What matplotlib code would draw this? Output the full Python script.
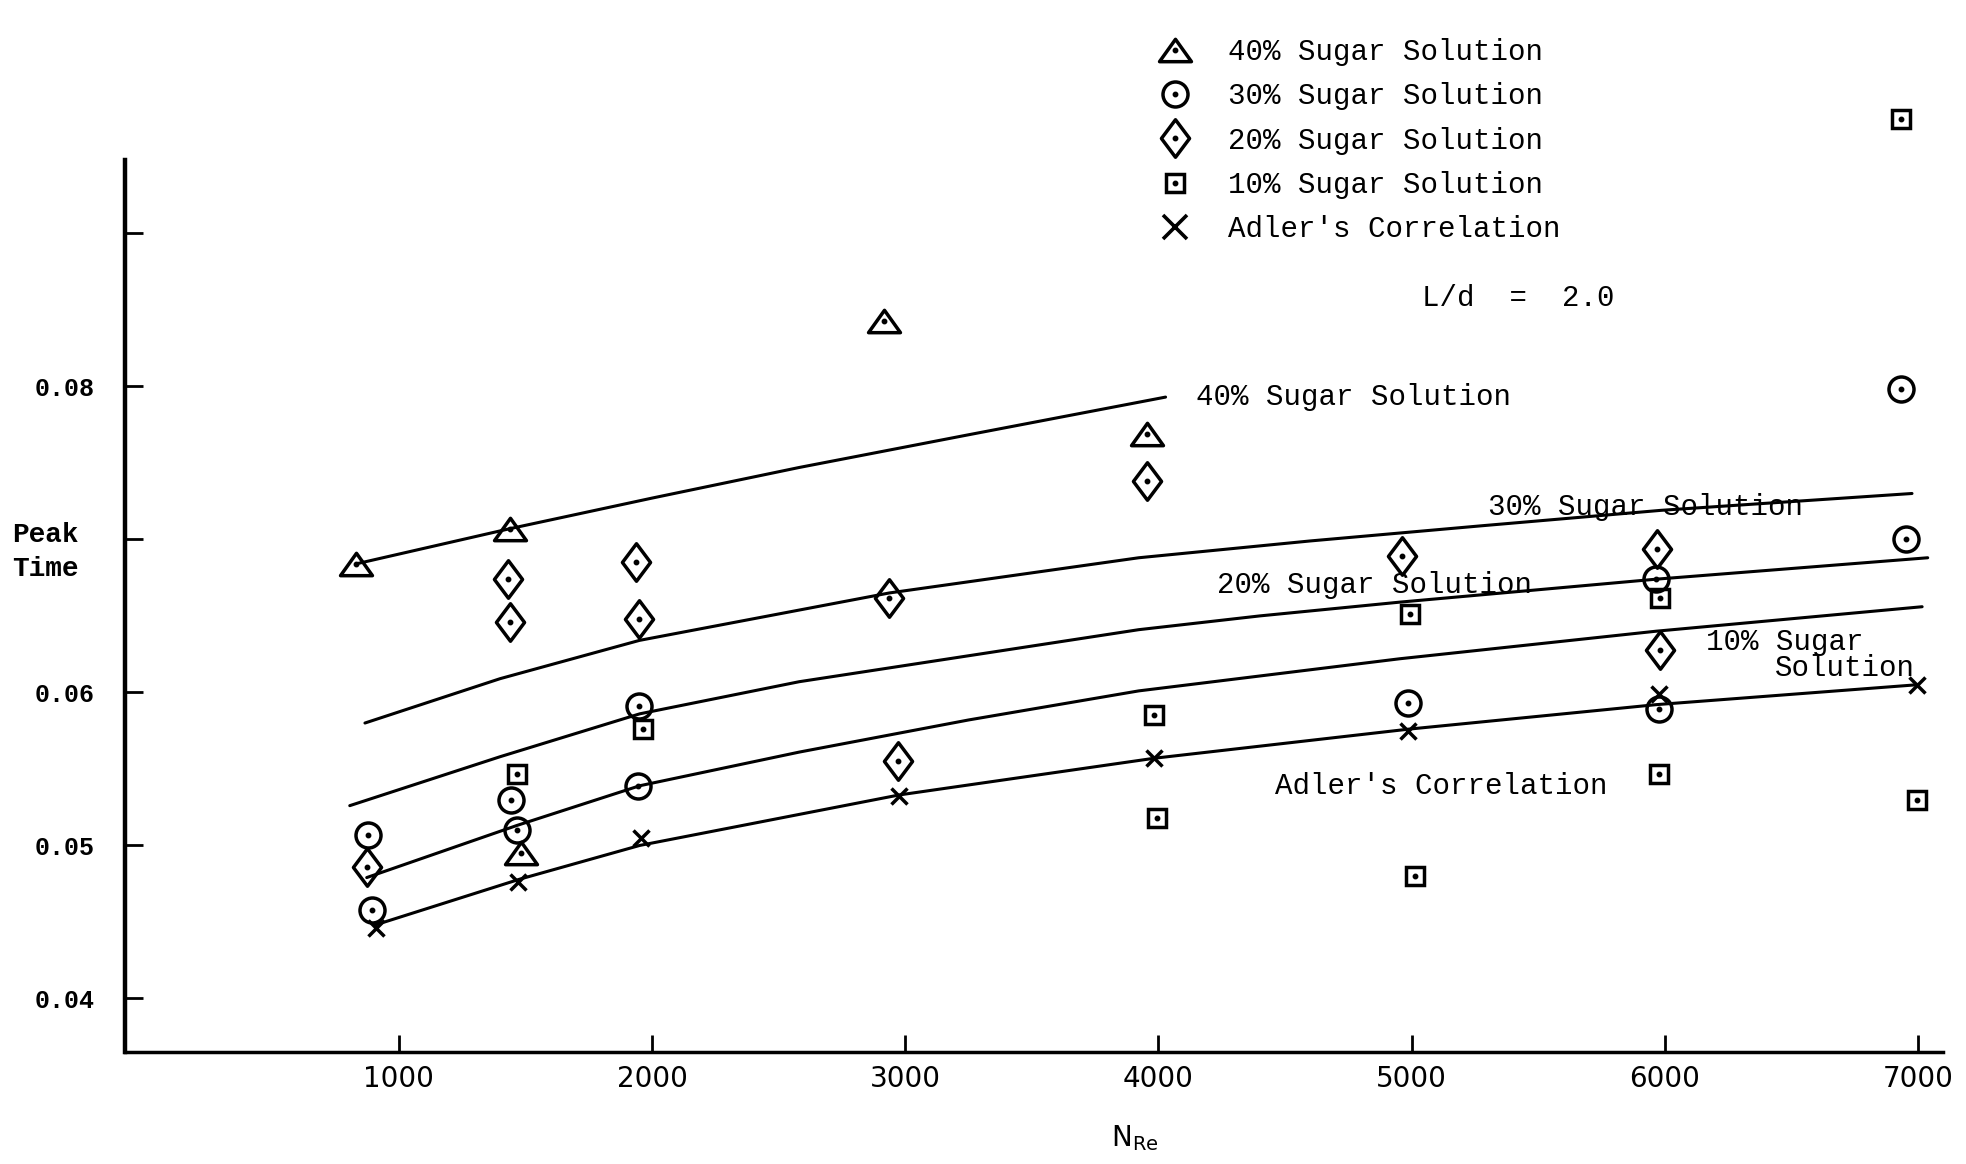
import matplotlib
matplotlib.use('Agg')
import matplotlib.pyplot as plt
from matplotlib.lines import Line2D
from matplotlib.path import Path

# smooth curves drawn through the data (N_Re, peak time)
re_40 = [831, 1438, 2000, 2581, 3238, 4028]
pt_40 = [0.0684, 0.0707, 0.0727, 0.0747, 0.0768, 0.0793]
re_30 = [866, 1400, 1950, 2937, 3922, 4600, 5283, 5985, 6976]
pt_30 = [0.0580, 0.0609, 0.0634, 0.0665, 0.0688, 0.0699, 0.0709, 0.0719, 0.0730]
re_20 = [806, 1400, 1951, 2581, 3922, 4400, 4953, 5965, 7038]
pt_20 = [0.0526, 0.0558, 0.0586, 0.0607, 0.0641, 0.0650, 0.0659, 0.0674, 0.0688]
re_10 = [873, 1465, 1951, 2581, 3250, 3922, 4953, 5965, 7016]
pt_10 = [0.0479, 0.0513, 0.0539, 0.0561, 0.0582, 0.0601, 0.0622, 0.0640, 0.0656]
re_adler = [906, 1478, 1951, 2976, 3984, 4988, 5965, 6995]
pt_adler = [0.0448, 0.0478, 0.0500, 0.0533, 0.0557, 0.0576, 0.0592, 0.0605]

# measured points
tri_re = [831, 1438, 1484, 2917, 3953]
tri_pt = [0.0684, 0.0707, 0.0495, 0.0843, 0.0769]
circ_re = [879, 892, 1444, 1466, 1948, 1944, 4984, 5965, 5975, 6934, 6954]
circ_pt = [0.0507, 0.0458, 0.0530, 0.0510, 0.0591, 0.0539, 0.0593, 0.0674, 0.0589, 0.0798, 0.0700]
dia_re = [873, 1431, 1438, 1937, 1948, 2937, 2973, 3953, 4963, 5970, 5980]
dia_pt = [0.0486, 0.0674, 0.0646, 0.0685, 0.0648, 0.0662, 0.0555, 0.0738, 0.0689, 0.0694, 0.0628]
sq_re = [1466, 1966, 3981, 3994, 4995, 5015, 5980, 5975, 6934, 6995]
sq_pt = [0.0547, 0.0576, 0.0585, 0.0518, 0.0651, 0.0480, 0.0662, 0.0547, 0.0975, 0.0530]
adl_re = [911, 1470, 1957, 2976, 3984, 4984, 5975, 6995]
adl_pt = [0.0446, 0.0476, 0.0505, 0.0532, 0.0557, 0.0575, 0.0599, 0.0605]

x_ticks = [1000, 2000, 3000, 4000, 5000, 6000, 7000]
x_labels = ['1000', '2000', '3000', '4000', '5000', '6000', '7000']
y_ticks = [0.04, 0.05, 0.06, 0.07, 0.08, 0.09]
y_labels = ['0.04', '0.05', '0.06', '', '0.08', '']

legend_labels = ['40% Sugar Solution', '30% Sugar Solution', '20% Sugar Solution',
                 '10% Sugar Solution', "Adler's Correlation"]

MONO = 'Liberation Mono'
INK = 'black'

# wide triangle and diamond, like the hand drawn symbols
TRI = Path([(0, 0.7), (-1, -0.7), (1, -0.7), (0, 0.7)],
           [Path.MOVETO, Path.LINETO, Path.LINETO, Path.CLOSEPOLY])
DIA = Path([(0, 1), (0.75, 0), (0, -1), (-0.75, 0), (0, 1)],
           [Path.MOVETO, Path.LINETO, Path.LINETO, Path.LINETO, Path.CLOSEPOLY])

fig = plt.figure(figsize=(19.66, 11.64), dpi=100)
fig.patch.set_facecolor('white')
ax = fig.add_axes([0.0638, 0.0962, 0.9247, 0.9038])
ax.set_xlim(-80, 7100)
ax.set_ylim(0.0365, 0.10525)

for xs, ys in [(re_40, pt_40), (re_30, pt_30), (re_20, pt_20), (re_10, pt_10), (re_adler, pt_adler)]:
    ax.plot(xs, ys, color=INK, linewidth=2.2, solid_capstyle='round', solid_joinstyle='round')

sym = dict(linestyle='none', markerfacecolor='none', markeredgecolor=INK,
           markeredgewidth=2.5, clip_on=False)
h_tri = ax.plot(tri_re, tri_pt, marker=TRI, markersize=23, **sym)[0]
h_circ = ax.plot(circ_re, circ_pt, marker='o', markersize=18, **sym)[0]
h_dia = ax.plot(dia_re, dia_pt, marker=DIA, markersize=27, **sym)[0]
h_sq = ax.plot(sq_re, sq_pt, marker='s', markersize=13, **sym)[0]
ax.plot(adl_re, adl_pt, marker='x', markersize=11, **sym)

# centre dots inside the open symbols
dots = []
for xs, ys in [(tri_re, tri_pt), (circ_re, circ_pt), (dia_re, dia_pt), (sq_re, sq_pt)]:
    dots.append(ax.plot(xs, ys, linestyle='none', marker='o', markersize=3.2,
                        color=INK, clip_on=False)[0])

# curve labels
lab = dict(fontfamily=MONO, fontsize=21, color=INK, va='center', ha='left')
ax.text(4149, 0.0793, '40% Sugar Solution', **lab)
ax.text(5302, 0.0721, '30% Sugar Solution', **lab)
ax.text(4233, 0.0670, '20% Sugar Solution', **lab)
ax.text(6162, 0.0633, '10% Sugar', **lab)
ax.text(6434, 0.0616, 'Solution', **lab)
ax.text(4461, 0.0539, "Adler's Correlation", **lab)
ax.text(5420, 0.0858, 'L/d  =  2.0', fontfamily=MONO, fontsize=21, color=INK,
        va='center', ha='center')

# legend
x_proxy = Line2D([], [], linestyle='none', marker='x', markersize=17,
                 markeredgecolor=INK, markeredgewidth=2.6)
handles = [(h_tri, dots[0]), (h_circ, dots[1]), (h_dia, dots[2]), (h_sq, dots[3]), x_proxy]
leg = fig.legend(handles, legend_labels, loc='upper left', bbox_to_anchor=(0.583, 0.980),
                 bbox_transform=fig.transFigure, frameon=False, borderpad=0,
                 handlelength=1.0, handletextpad=1.32, labelspacing=0.56,
                 prop={'family': MONO, 'size': 21})

# axes, drawn like the hand ruled ones
for side in ['top', 'right']:
    ax.spines[side].set_visible(False)
ax.spines['left'].set_bounds(0.0365, 0.0948)
ax.spines['left'].set_linewidth(3.2)
ax.spines['bottom'].set_linewidth(2.5)

ax.set_xticks(x_ticks)
ax.set_xticklabels(x_labels, fontfamily='DejaVu Sans', fontsize=20)
ax.set_yticks(y_ticks)
ax.set_yticklabels(y_labels, fontfamily=MONO, fontsize=18, fontweight='bold')
ax.tick_params(axis='x', direction='in', length=12, width=2, pad=9, colors=INK)
ax.tick_params(axis='y', direction='in', length=13, width=2, pad=22, colors=INK)

fig.text(0.0064, 0.526, 'Peak\nTime', fontfamily=MONO, fontsize=20, fontweight='bold',
         va='center', ha='left', linespacing=1.4)
fig.text(0.577, 0.022, r'$\mathregular{N_{Re}}$', fontfamily='DejaVu Sans', fontsize=20,
         ha='center', va='center')

plt.savefig('out.png', dpi=100, facecolor='white')
plt.close()
